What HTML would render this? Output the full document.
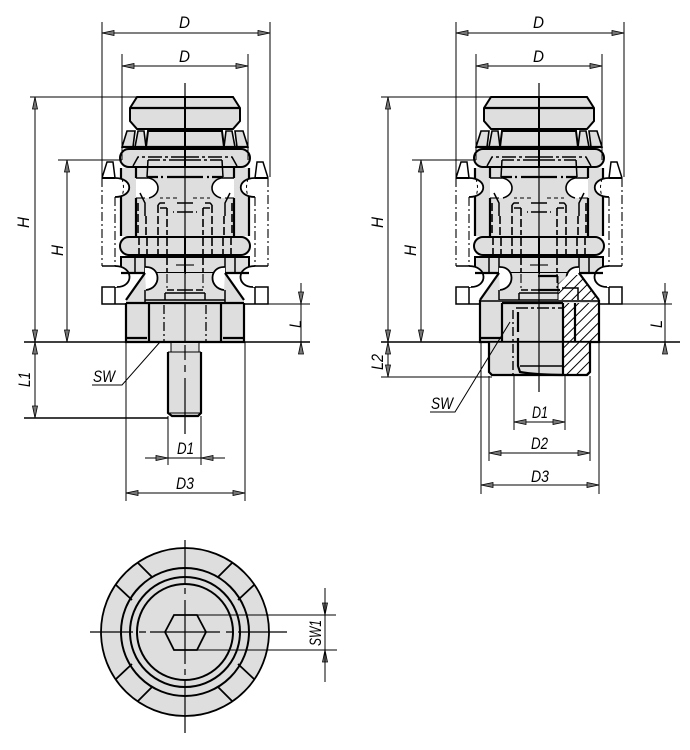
<!DOCTYPE html>
<html><head><meta charset="utf-8"><style>
html,body{margin:0;padding:0;background:#fff;width:690px;height:750px;overflow:hidden}
svg{display:block}
text{font-family:"Liberation Sans",sans-serif;font-style:italic;font-size:17px;fill:#000}
.g{fill:#dedede;stroke:#000;stroke-width:2}
.k{fill:none;stroke:#000;stroke-width:2.2}
.m{fill:none;stroke:#000;stroke-width:1.5}
.s{fill:none;stroke:#000;stroke-width:1}
.dsh{fill:none;stroke:#000;stroke-width:1.6;stroke-dasharray:8 3}
.dd{fill:none;stroke:#000;stroke-width:1.1;stroke-dasharray:9 3 2 3}
.a{fill:#777;stroke:#000;stroke-width:.8}
</style></head><body>
<svg width="690" height="750" viewBox="0 0 690 750" xmlns="http://www.w3.org/2000/svg">
<defs>
<g id="half">
 <!-- side white pieces -->
 <path class="m" d="M83 178L78 162H72L70 178"/>
 <path class="dd" d="M83 178V266M70 197V266"/>
 <path class="m" d="M70 266H83M68 287H83V304H58M70 287V304"/>
 <!-- cap -->
 <path class="g" d="M0 97H48L55 108V121L48 129H0Z"/>
 <path class="k" d="M0 108H55"/>
 <!-- collars -->
 <path class="g" d="M0 131H37L39 147H0Z"/>
 <path class="g" d="M41 131H47L50 147H39Z" style="stroke-width:1.6"/>
 <path class="g" d="M50 131H58L63 147H52Z" style="stroke-width:1.6"/>
 <path class="k" d="M0 147H63"/>
 <!-- body -->
 <rect x="0" y="168" width="64" height="68" fill="#dedede" stroke="none"/>
 <path class="k" d="M64 168V236"/>
 <path class="k" d="M49 168V178M49 198V236"/>
 <path d="M49 178H36C24 181 24 195 36 198H49Z" fill="#fff" stroke="none"/>
 <path class="k" style="stroke-width:1.6" d="M49 178H36C24 181 24 195 36 198"/>
 <path class="dd" d="M40 198H49"/>
 <path class="m" d="M45 193L40 203V216"/>
 <path class="dsh" d="M39 216V236M27 205V235M18 208V235M47 203V235"/>
 <path class="m" d="M20 203H25L27 205M18 208H25"/>
 <path class="dsh" d="M0 212H12M0 203H8"/>
 <path class="s" style="stroke-dasharray:4 3" d="M8 198H25"/>
 <!-- white D notch in body flank -->
 <path d="M70 178C51 178 51 197 70 197Z" fill="#fff" stroke="none"/>
 <path class="m" style="stroke-width:1.8" d="M70 178C51 178 51 197 70 197"/>
 <path class="k" style="stroke-width:2" d="M70 178H83"/>
 <path class="s" style="stroke-dasharray:3 3" d="M63 179C61 185 61 191 63 196"/>
 <!-- upper ring -->
 <path class="g" d="M0 149H56A9 9 0 0 1 56 167H0Z"/>
 <path class="m" style="stroke-dasharray:14 3 3 3" d="M0 157H47L52 166"/>
 <path class="m" d="M37 160L38 177"/>
 <path class="m" style="stroke-dasharray:16 3 3 3" d="M0 160H37"/>
 <path class="k" style="stroke-dasharray:18 4 2 3" d="M0 177H38"/>
 <!-- lower ring -->
 <path class="g" d="M0 237H56A9 9 0 0 1 56 255H0Z"/>
 <path class="dsh" d="M46 237V254M38 238V254M27 238V254M18 238V254"/>
 <!-- lower block -->
 <rect class="g" x="0" y="257" width="64" height="16"/>
 <path class="m" d="M50 257V273M40 257V273"/>
 <path class="dsh" d="M18 257V273"/>
 <path class="dd" d="M0 265H12"/>
 <!-- flank notch lower -->
 <path d="M70 266C51 266 51 287 70 287Z" fill="#fff" stroke="none"/>
 <path class="m" style="stroke-width:1.8" d="M70 266C51 266 51 287 68 287"/>
 <path class="k" d="M38 273H64"/>
 <!-- cone -->
 <path d="M0 273H40L59 300V303H0Z" fill="#dedede" stroke="none"/>
 <path d="M40 267C24 266 23 288 39 290L40 273Z" fill="#fff" stroke="none"/>
 <path class="k" d="M40 273L59 300"/>
 <path class="k" style="stroke-width:1.8" d="M40 267C24 266 23 288 39 290"/>
 <path class="m" d="M40 290V302"/>
 <path class="dd" d="M18 274V290"/>
 <path class="m" d="M20 300V293"/>
 <path class="m" d="M0 293H20"/>
 <path class="m" style="stroke-dasharray:8 3" d="M0 290H18"/>
 <path class="m" d="M0 300H40"/>
</g>
<g id="base">
 <path d="M0 303H59V342H0Z" fill="#dedede" stroke="none"/>
 <path class="k" d="M59 303V342H0M59 303H0M36 303V342"/>
 <path class="k" d="M59 338H38"/>
 <path class="dd" style="stroke-width:1.3" d="M21 305V342"/>
</g>
<g id="top"><use href="#half"/><use href="#half" transform="scale(-1,1)"/></g>
<pattern id="hatch" width="7" height="7" patternUnits="userSpaceOnUse" patternTransform="rotate(-45)">
 <rect width="7" height="7" fill="#fff"/><rect width="7" height="1" fill="#000"/>
</pattern>
</defs>

<!-- LEFT VIEW -->
<g transform="translate(185,0)"><use href="#top"/><use href="#base"/><use href="#base" transform="scale(-1,1)"/></g>
<path d="M171 343H199V352H171Z" fill="#dedede" stroke="none"/>
<path class="s" d="M171 343V352M199 343V352"/>
<path d="M168 352H201V413L198 416H172L168 413Z" fill="#dedede" stroke="none"/>
<path class="k" d="M168 352V413L172 416H198L201 413V352"/>
<path class="s" d="M168 352H201M168 413H201"/>

<!-- RIGHT VIEW -->
<g transform="translate(539,0)"><use href="#top"/></g>
<path d="M558 303V284L568 275H581L599 299V303Z" fill="url(#hatch)" stroke="none"/>
<path class="k" d="M579 273L599 300"/>
<path class="m" d="M562 288H578V303"/>
<path class="k" d="M538 276H558M538 290H560"/>
<path class="s" d="M558 276V303"/>
<!-- base right -->
<path d="M480 300H599V342H480Z" fill="#dedede" stroke="none"/>
<path d="M563 303H599V342H563Z" fill="url(#hatch)" stroke="none"/>
<path class="k" d="M480 300V342H599V300M480 338H502"/>
<path class="m" d="M480 301H599"/>
<path class="k" d="M502 303V342M502 303H563M575 303V342"/>
<!-- hub -->
<path d="M489 342H590V372L587 375H492L489 372Z" fill="#dedede" stroke="none"/>
<path d="M563 342H590V372L587 375H563Z" fill="url(#hatch)" stroke="none"/>
<path class="k" d="M489 342V372L492 375H587L590 372V342"/>
<path class="k" d="M563 303V376"/>
<path class="k" d="M518 312V332M518 338V366L520 372C530 374 550 375 563 375"/>
<path class="m" d="M520 366H563"/>
<path class="m" style="stroke-dasharray:12 3 3 3" d="M516 308H562"/>
<path class="dd" style="stroke-width:1.4" d="M513 310V376"/>

<!-- CENTER LINES -->
<path class="s" style="stroke-width:1.2" d="M185 83V127M185 135V141M185 149V300M185 303V342M185 345V360M185 365V372M185 378V434"/>
<path class="s" style="stroke-width:1.2" d="M539 83V127M539 135V141M539 149V392"/>

<!-- DIMENSION LINES -->
<g class="s">
<path d="M102 22V177M270 22V177M122 54V160M248 54V160"/>
<path d="M102 33H270M122 66H248"/>
<path d="M30 97H137M35 97V418M58 160H122M67 160V342"/>
<path d="M245 304H310M301 283V352"/>
<path d="M126 342V501M245 342V501M168 416V465M201 416V465M145 458H225M126 493H245"/>
<path d="M160 342L122 385H92"/>
<path d="M456 22V177M624 22V177M476 54V160M602 54V160"/>
<path d="M456 33H624M476 66H602"/>
<path d="M381 97H490M388 97V377M412 160H476M421 160V342"/>
<path d="M600 304H672M665 283V352"/>
<path d="M381 377H492"/>
<path d="M514 376V430M565 376V430M489 376V461M590 376V461M481 342V494M599 342V494"/>
<path d="M514 422H565M489 453H590M481 485H599"/>
<path d="M510 322L455 412H430"/>
</g>
<path class="m" d="M24 342H310M381 342H680M24 418H168"/>

<!-- ARROWS -->
<g class="a">
<path d="M102 33l12-2.5v5zM270 33l-12-2.5v5zM122 66l12-2.5v5zM248 66l-12-2.5v5z"/>
<path d="M35 97l-2.5 12h5zM35 342l-2.5-12h5zM67 160l-2.5 12h5zM67 342l-2.5-12h5z"/>
<path d="M35 342l-2.5 12h5zM35 418l-2.5-12h5z"/>
<path d="M301 304l-2.5-12h5zM301 342l-2.5 12h5z"/>
<path d="M168 458l-12-2.5v5zM201 458l12-2.5v5zM126 493l12-2.5v5zM245 493l-12-2.5v5z"/>
<path d="M456 33l12-2.5v5zM624 33l-12-2.5v5zM476 66l12-2.5v5zM602 66l-12-2.5v5z"/>
<path d="M388 97l-2.5 12h5zM388 342l-2.5-12h5zM421 160l-2.5 12h5zM421 342l-2.5-12h5z"/>
<path d="M388 342l-2.5 12h5zM388 377l-2.5-12h5z"/>
<path d="M665 304l-2.5-12h5zM665 342l-2.5 12h5z"/>
<path d="M514 422l12-2.5v5zM565 422l-12-2.5v5zM489 453l12-2.5v5zM590 453l-12-2.5v5zM481 485l12-2.5v5zM599 485l-12-2.5v5z"/>
<path d="M325 615l-2.5-12h5zM325 650l-2.5 12h5z"/>
</g>

<!-- BOTTOM VIEW -->
<circle class="g" cx="185" cy="632" r="84" style="stroke-width:1.8"/>
<circle class="g" cx="185" cy="632" r="64"/>
<circle class="g" cx="185" cy="632" r="55"/>
<circle class="g" cx="185" cy="632" r="48"/>
<path class="k" style="stroke-width:1.8" d="M138 563L152 577M116 585L132 600M232 563L218 577M254 585L238 600M138 701L152 687M116 679L132 664M232 701L218 687M254 679L238 664"/>
<path d="M165 632L174 615H197L206 632L197 650H174Z" fill="#dedede" stroke="#000" style="stroke-width:1.8"/>
<path class="s" style="stroke-width:1.2" d="M185 540V584M185 588V594M185 600V664M185 669V675M185 680V733M90 632H133M139 632H146M150 632H220M226 632H233M238 632H287"/>
<path class="s" d="M197 615H336M197 650H337M325 588V682"/>

<!-- LABELS -->
<text x="179" y="28" textLength="11" lengthAdjust="spacingAndGlyphs">D</text>
<text x="179" y="62" textLength="11" lengthAdjust="spacingAndGlyphs">D</text>
<text x="533" y="28" textLength="11" lengthAdjust="spacingAndGlyphs">D</text>
<text x="533" y="62" textLength="11" lengthAdjust="spacingAndGlyphs">D</text>
<text transform="translate(29,228) rotate(-90)" textLength="11" lengthAdjust="spacingAndGlyphs">H</text>
<text transform="translate(63,256) rotate(-90)" textLength="11" lengthAdjust="spacingAndGlyphs">H</text>
<text transform="translate(383,228) rotate(-90)" textLength="11" lengthAdjust="spacingAndGlyphs">H</text>
<text transform="translate(416,256) rotate(-90)" textLength="11" lengthAdjust="spacingAndGlyphs">H</text>
<text transform="translate(301,328) rotate(-90)" textLength="8" lengthAdjust="spacingAndGlyphs">L</text>
<text transform="translate(662,328) rotate(-90)" textLength="8" lengthAdjust="spacingAndGlyphs">L</text>
<text transform="translate(30,387) rotate(-90)" textLength="15" lengthAdjust="spacingAndGlyphs">L1</text>
<text transform="translate(383,370) rotate(-90)" textLength="16" lengthAdjust="spacingAndGlyphs">L2</text>
<text x="93" y="382" textLength="22" lengthAdjust="spacingAndGlyphs">SW</text>
<text x="431" y="409" textLength="22" lengthAdjust="spacingAndGlyphs">SW</text>
<text x="177" y="454" textLength="17" lengthAdjust="spacingAndGlyphs">D1</text>
<text x="176" y="489" textLength="18" lengthAdjust="spacingAndGlyphs">D3</text>
<text x="532" y="418" textLength="16" lengthAdjust="spacingAndGlyphs">D1</text>
<text x="531" y="449" textLength="17" lengthAdjust="spacingAndGlyphs">D2</text>
<text x="531" y="482" textLength="18" lengthAdjust="spacingAndGlyphs">D3</text>
<text transform="translate(321,646) rotate(-90)" textLength="26" lengthAdjust="spacingAndGlyphs">SW1</text>
</svg>
</body></html>
